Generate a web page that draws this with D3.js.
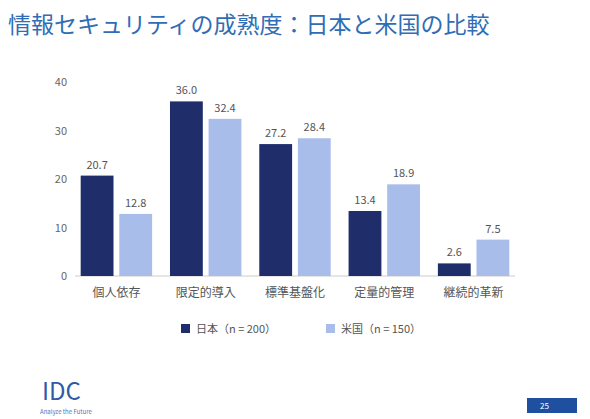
<!DOCTYPE html><html><head><meta charset="utf-8">
<script src="https://cdn.jsdelivr.net/npm/d3@7"></script>
<style>body{margin:0;background:#fff}text{font-family:"Noto Sans CJK JP","Noto Sans",sans-serif}</style></head><body>
<svg id="c" width="590" height="419"></svg>
<script>
const categories=["個人依存","限定的導入","標準基盤化","定量的管理","継続的革新"];
const japan=[20.7,36.0,27.2,13.4,2.6];
const us=[12.8,32.4,28.4,18.9,7.5];
const ticks=[0,10,20,30,40];
const seriesNames=["日本（n = 200）","米国（n = 150）"];
const colors=["#1f2d6b","#a9bdea"];
const svg=d3.select("#c");
svg.append("text").attr("x",8).attr("y",33).attr("font-size",23).attr("fill","#2f6db5").text("情報セキュリティの成熟度：日本と米国の比較");
const y=d3.scaleLinear().domain([0,40]).range([276,82]);
const x=d3.scaleBand().domain(categories).range([78,512]).paddingInner(0.2).paddingOuter(0.03);
const xs=d3.scaleBand().domain([0,1]).range([0,x.bandwidth()]).paddingInner(0.15);
const ya=svg.append("g").attr("transform","translate(70,0)").call(d3.axisLeft(y).tickValues(ticks).tickSize(0));
ya.select(".domain").remove();
ya.selectAll("text").attr("font-size",11).attr("fill","#666");
svg.append("line").attr("x1",75).attr("x2",515).attr("y1",y(0)).attr("y2",y(0)).attr("stroke","#ccc");
[japan,us].forEach((s,i)=>{
 const g=svg.append("g");
 g.selectAll("rect").data(s).join("rect").attr("x",(d,j)=>x(categories[j])+xs(i)).attr("width",xs.bandwidth())
  .attr("y",d=>y(d)).attr("height",d=>y(0)-y(d)).attr("fill",colors[i]);
 g.selectAll("text").data(s).join("text").attr("x",(d,j)=>x(categories[j])+xs(i)+xs.bandwidth()/2).attr("y",d=>y(d)-7)
  .attr("text-anchor","middle").attr("font-size",11).attr("fill","#555").text(d=>d.toFixed(1));
});
const xa=svg.append("g").attr("transform",`translate(0,${y(0)})`).call(d3.axisBottom(x).tickSize(0));
xa.select(".domain").remove();
xa.selectAll("text").attr("font-size",12).attr("fill","#555").attr("dy","1.5em");
const lg=svg.append("g");
[0,1].forEach(i=>{const lx=[181,326][i];
 lg.append("rect").attr("x",lx).attr("y",324).attr("width",9).attr("height",9).attr("fill",colors[i]);
 lg.append("text").attr("x",lx+15).attr("y",333).attr("font-size",11).attr("fill","#555").text(seriesNames[i]);});
svg.append("text").attr("x",42).attr("y",400).attr("font-size",24).attr("fill","#2f5aa8").attr("font-family","Liberation Serif").text("IDC");
svg.append("text").attr("x",40).attr("y",414).attr("font-size",6).attr("fill","#4a78c0").text("Analyze the Future");
svg.append("rect").attr("x",527).attr("y",398).attr("width",50).attr("height",15).attr("fill","#1f4f9f");
svg.append("text").attr("x",540).attr("y",409).attr("font-size",8).attr("fill","#fff").text("25");
</script></body></html>
